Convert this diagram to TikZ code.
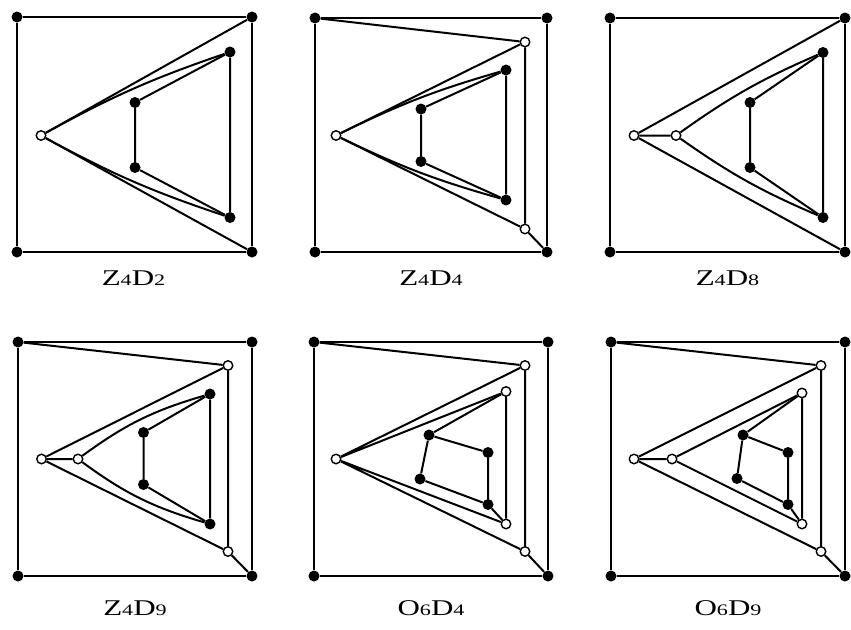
\documentclass[tikz,border=0pt]{standalone}
\usepackage{graphicx}
\usepackage{fontspec}
\setmainfont{Liberation Serif}
\newcommand\sbd[1]{\raisebox{-0.5pt}{\fontsize{16}{16}\selectfont #1}}
\newcommand\labtxt[1]{\scalebox{1.38}[1]{\fontsize{22.5}{22.5}\selectfont #1}}
\tikzset{
  bd/.style={circle,fill=black,inner sep=0pt,minimum size=11pt},
  wd/.style={circle,draw=black,fill=white,line width=1.4pt,inner sep=0pt,minimum size=9.5pt},
  ed/.style={line width=2pt,line join=round},
  lab/.style={anchor=base,inner sep=0pt},
}
\begin{document}
\begin{tikzpicture}[x=1pt,y=-1pt]
\useasboundingbox (0,0) rectangle (851,629);
% ---------- Panel 1: Z4D2
\node[bd] (aTL) at (17,17) {};
\node[bd] (aTR) at (252,17) {};
\node[bd] (aBL) at (17,252) {};
\node[bd] (aBR) at (252,252) {};
\node[wd] (awL) at (41,135.5) {};
\node[bd] (aiT) at (230,52) {};
\node[bd] (aiB) at (230,217.5) {};
\node[bd] (asT) at (135,102.5) {};
\node[bd] (asB) at (135,167.5) {};
\draw[ed] (aTL)--(aTR)--(aBR)--(aBL)--(aTL);
\draw[ed] (awL)--(aTR) (awL)--(aBR);
\draw[ed] (awL) to[bend left=5] (aiT);
\draw[ed] (awL) to[bend right=5] (aiB);
\draw[ed] (aiT)--(aiB) (aiT)--(asT)--(asB)--(aiB);
\node[lab] (alab) at (133.5,285) {\labtxt{Z\sbd{4}D\sbd{2}}};
% ---------- Panel 2: Z4D4
\node[bd] (bTL) at (315,18) {};
\node[bd] (bTR) at (547,18) {};
\node[bd] (bBL) at (315,252) {};
\node[bd] (bBR) at (547,252) {};
\node[wd] (bwT) at (525,42) {};
\node[wd] (bwB) at (525,229) {};
\node[wd] (bwL) at (336,135.5) {};
\node[bd] (biT) at (506,70) {};
\node[bd] (biB) at (506,200) {};
\node[bd] (bsT) at (421,109) {};
\node[bd] (bsB) at (421,161.5) {};
\draw[ed] (bTL)--(bTR)--(bBR)--(bBL)--(bTL);
\draw[ed] (bTL)--(bwT)--(bwB)--(bBR);
\draw[ed] (bwL)--(bwT) (bwL)--(bwB);
\draw[ed] (bwL) to[bend left=5] (biT);
\draw[ed] (bwL) to[bend right=5] (biB);
\draw[ed] (biT)--(biB) (biT)--(bsT)--(bsB)--(biB);
\node[lab] (blab) at (431,285) {\labtxt{Z\sbd{4}D\sbd{4}}};
% ---------- Panel 3: Z4D8
\node[bd] (cTL) at (610,18) {};
\node[bd] (cTR) at (845,18) {};
\node[bd] (cBL) at (610,252) {};
\node[bd] (cBR) at (845,252) {};
\node[wd] (cwL) at (634,135.5) {};
\node[wd] (cwM) at (676,135.5) {};
\node[bd] (ciT) at (823,52.5) {};
\node[bd] (ciB) at (823,217.5) {};
\node[bd] (csT) at (750,102.5) {};
\node[bd] (csB) at (750,167.5) {};
\draw[ed] (cTL)--(cTR)--(cBR)--(cBL)--(cTL);
\draw[ed] (cwL)--(cTR) (cwL)--(cBR) (cwL)--(cwM);
\draw[ed] (cwM) to[bend left=6] (ciT);
\draw[ed] (cwM) to[bend right=6] (ciB);
\draw[ed] (ciT)--(ciB) (ciT)--(csT)--(csB)--(ciB);
\node[lab] (clab) at (727.5,285) {\labtxt{Z\sbd{4}D\sbd{8}}};
% ---------- Panel 4: Z4D9
\node[bd] (dTL) at (18,342) {};
\node[bd] (dTR) at (252,342) {};
\node[bd] (dBL) at (18,576) {};
\node[bd] (dBR) at (252,576) {};
\node[wd] (dwT) at (228,365.5) {};
\node[wd] (dwB) at (228,551.5) {};
\node[wd] (dwL) at (41.5,459) {};
\node[wd] (dwM) at (78,459) {};
\node[bd] (diT) at (210,394) {};
\node[bd] (diB) at (210,524) {};
\node[bd] (dsT) at (143.5,432.5) {};
\node[bd] (dsB) at (143.5,484.5) {};
\draw[ed] (dTL)--(dTR)--(dBR)--(dBL)--(dTL);
\draw[ed] (dTL)--(dwT)--(dwB)--(dBR);
\draw[ed] (dwL)--(dwT) (dwL)--(dwB) (dwL)--(dwM);
\draw[ed] (dwM) to[bend left=10] (diT);
\draw[ed] (dwM) to[bend right=10] (diB);
\draw[ed] (diT)--(diB) (diT)--(dsT)--(dsB)--(diB);
\node[lab] (dlab) at (135,615) {\labtxt{Z\sbd{4}D\sbd{9}}};
% ---------- Panel 5: O6D4
\node[bd] (eTL) at (314,342) {};
\node[bd] (eTR) at (548,342) {};
\node[bd] (eBL) at (314,576) {};
\node[bd] (eBR) at (548,576) {};
\node[wd] (ewT) at (525,365.5) {};
\node[wd] (ewB) at (525,551.5) {};
\node[wd] (ewL) at (336,459) {};
\node[wd] (eiT) at (506,391.5) {};
\node[wd] (eiB) at (506,524) {};
\node[bd] (ea) at (429,435) {};
\node[bd] (eb) at (488,452.5) {};
\node[bd] (ec) at (488,504.5) {};
\node[bd] (ed) at (420,479) {};
\draw[ed] (eTL)--(eTR)--(eBR)--(eBL)--(eTL);
\draw[ed] (eTL)--(ewT)--(ewB)--(eBR);
\draw[ed] (ewL)--(ewT) (ewL)--(ewB) (ewL)--(eiT) (ewL)--(eiB);
\draw[ed] (eiT)--(eiB) (eiT)--(ea)--(eb)--(ec)--(eiB) (ea)--(ed)--(ec);
\node[lab] (elab) at (431,615) {\labtxt{O\sbd{6}D\sbd{4}}};
% ---------- Panel 6: O6D9
\node[bd] (fTL) at (611,342) {};
\node[bd] (fTR) at (845,342) {};
\node[bd] (fBL) at (611,576) {};
\node[bd] (fBR) at (845,576) {};
\node[wd] (fwT) at (821,365.5) {};
\node[wd] (fwB) at (821,551.5) {};
\node[wd] (fwL) at (634,459) {};
\node[wd] (fwM) at (672,459) {};
\node[wd] (fiT) at (802,393) {};
\node[wd] (fiB) at (802,524) {};
\node[bd] (fa) at (743,435) {};
\node[bd] (fb) at (788,452.5) {};
\node[bd] (fc) at (788,504.5) {};
\node[bd] (fd) at (737,478.5) {};
\draw[ed] (fTL)--(fTR)--(fBR)--(fBL)--(fTL);
\draw[ed] (fTL)--(fwT)--(fwB)--(fBR);
\draw[ed] (fwL)--(fwT) (fwL)--(fwB) (fwL)--(fwM);
\draw[ed] (fwM)--(fiT) (fwM)--(fiB);
\draw[ed] (fiT)--(fiB) (fiT)--(fa)--(fb)--(fc)--(fiB) (fa)--(fd)--(fc);
\node[lab] (flab) at (728,615) {\labtxt{O\sbd{6}D\sbd{9}}};
\end{tikzpicture}
\end{document}
